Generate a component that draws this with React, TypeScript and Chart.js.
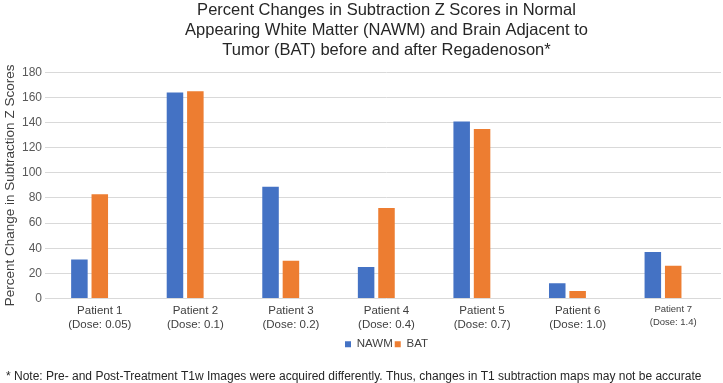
import React, { useEffect, useRef } from "react";
import { Chart, registerables } from "chart.js";

Chart.register(...registerables);

const FONT = "'Liberation Sans', Arial, Helvetica, sans-serif";

const titleLines = [
  "Percent Changes in Subtraction Z Scores in Normal",
  "Appearing White Matter (NAWM) and Brain Adjacent to",
  "Tumor (BAT) before and after Regadenoson*",
];

const categories = [
  ["Patient 1", "(Dose: 0.05)"],
  ["Patient 2", "(Dose: 0.1)"],
  ["Patient 3", "(Dose: 0.2)"],
  ["Patient 4", "(Dose: 0.4)"],
  ["Patient 5", "(Dose: 0.7)"],
  ["Patient 6", "(Dose: 1.0)"],
  ["Patient 7", "(Dose: 1.4)"],
];

const nawmValues = [31, 164, 89, 25, 141, 12, 37];
const batValues = [83, 165, 30, 72, 135, 6, 26];
// empty third series keeps the third (unused) slot in each cluster
const spareValues = [null, null, null, null, null, null, null];

const yTicks = [0, 20, 40, 60, 80, 100, 120, 140, 160, 180];

const yAxisTitle = "Percent Change in Subtraction Z Scores";
const footnote =
  "* Note: Pre- and Post-Treatment T1w Images were acquired differently. Thus, changes in T1 subtraction maps may not be accurate";

const footnotePlugin = {
  id: "footnote",
  afterDraw(chart: any) {
    const { ctx } = chart;
    ctx.save();
    ctx.font = `12px ${FONT}`;
    ctx.fillStyle = "#262626";
    ctx.textAlign = "left";
    ctx.textBaseline = "alphabetic";
    ctx.fillText(footnote, 6, 380);
    ctx.restore();
  },
};

export default function App() {
  const canvasRef = useRef<HTMLCanvasElement | null>(null);

  useEffect(() => {
    const canvas = canvasRef.current;
    if (!canvas) return;
    const chart = new Chart(canvas, {
      type: "bar",
      data: {
        labels: categories,
        datasets: [
          {
            label: "NAWM",
            data: nawmValues,
            backgroundColor: "#4472C4",
            barPercentage: 0.81,
            categoryPercentage: 0.64,
          },
          {
            label: "BAT",
            data: batValues,
            backgroundColor: "#ED7D31",
            barPercentage: 0.81,
            categoryPercentage: 0.64,
          },
          {
            label: "",
            data: spareValues,
            backgroundColor: "rgba(0,0,0,0)",
            barPercentage: 0.81,
            categoryPercentage: 0.64,
          },
        ],
      },
      options: {
        responsive: false,
        animation: false,
        layout: { padding: { left: 0, right: 2, top: 0, bottom: 23 } },
        plugins: {
          title: {
            display: true,
            text: titleLines,
            fullSize: false,
            color: "#262626",
            font: { family: FONT, size: 16.5, weight: "normal", lineHeight: 1.2 },
            padding: { top: 1, bottom: 12 },
          },
          legend: {
            display: true,
            position: "bottom",
            fullSize: false,
            labels: {
              filter: (item: any) => item.text !== "",
              boxWidth: 6,
              boxHeight: 6,
              padding: 2,
              color: "#404040",
              font: { family: FONT, size: 11.5 },
            },
          },
          tooltip: { enabled: false },
        },
        scales: {
          x: {
            grid: { display: false, drawTicks: false },
            border: { display: false },
            ticks: {
              color: "#404040",
              padding: 5,
              maxRotation: 0,
              autoSkip: false,
              font: (ctx: any) =>
                ctx.index === 6
                  ? { family: FONT, size: 9.5, lineHeight: 1.3 }
                  : { family: FONT, size: 11.5, lineHeight: 1.22 },
            },
          },
          y: {
            min: 0,
            max: 180,
            afterFit: (scale: any) => {
              scale.width = 52;
            },
            afterBuildTicks: (scale: any) => {
              scale.ticks = yTicks.map((v) => ({ value: v }));
            },
            grid: {
              color: "#D9D9D9",
              lineWidth: 1,
              drawTicks: true,
              tickLength: 7,
              tickColor: "#D9D9D9",
            },
            border: { display: false },
            ticks: {
              color: "#595959",
              padding: 3,
              font: { family: FONT, size: 12 },
            },
            title: {
              display: true,
              text: yAxisTitle,
              color: "#404040",
              font: { family: FONT, size: 13.5 },
              padding: { top: 2, bottom: 0 },
            },
          },
        },
      },
      plugins: [footnotePlugin],
    });
    return () => chart.destroy();
  }, []);

  return (
    <div style={{ position: "absolute", left: 0, top: 0, width: 723, height: 383, background: "#ffffff" }}>
      <canvas ref={canvasRef} width={723} height={383} />
    </div>
  );
}
